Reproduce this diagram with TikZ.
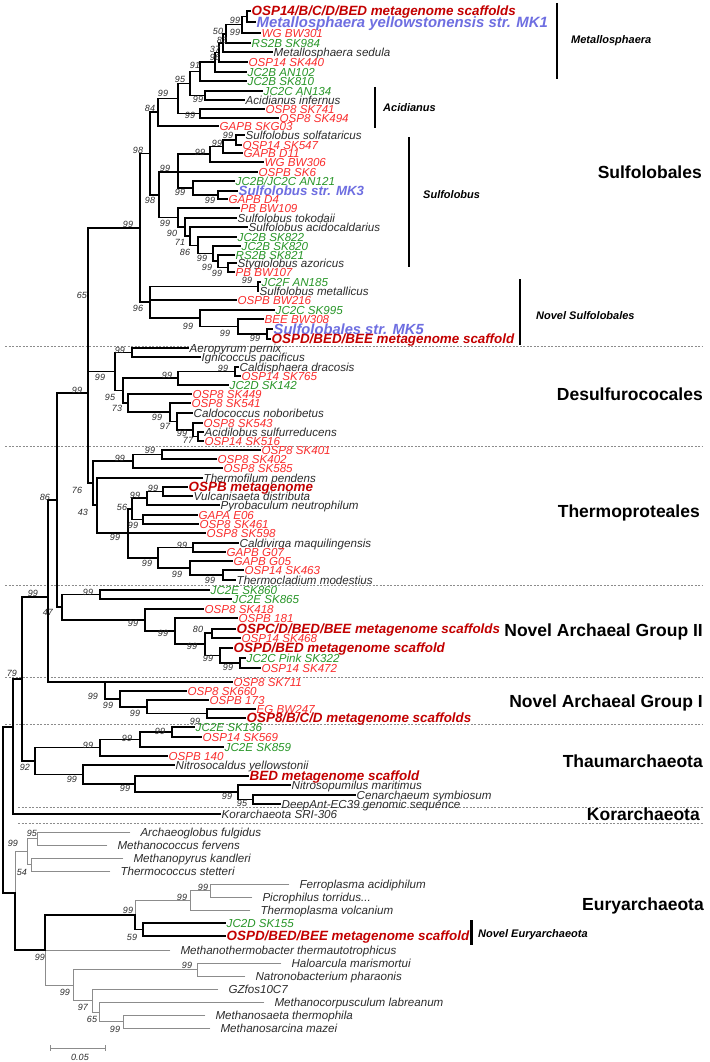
\documentclass[tikz,border=0pt]{standalone}
\usepackage{fontspec}
\setmainfont{Liberation Sans}
\definecolor{tx}{RGB}{45,45,45}
\definecolor{rd}{RGB}{250,45,45}
\definecolor{gn}{RGB}{40,150,40}
\definecolor{dr}{RGB}{195,0,0}
\definecolor{bu}{RGB}{110,110,225}
\definecolor{gl}{RGB}{140,140,140}
\begin{document}
\begin{tikzpicture}[x=1pt,y=-1pt,
 lf/.style={anchor=west,inner xsep=1.5pt,inner ysep=0pt,text height=8.3pt,text depth=0pt,font=\fontsize{11.6}{12}\selectfont\itshape,text=tx},
 cr/.style={text=rd}, cg/.style={text=gn},
 ch/.style={font=\fontsize{13.4}{14}\selectfont\bfseries\itshape,text=dr,text height=9.6pt},
 cb/.style={font=\fontsize{14.7}{15}\selectfont\bfseries\itshape,text=bu,text height=10.6pt},
 cbl/.style={font=\fontsize{14.9}{16}\selectfont\bfseries\itshape,text=bu,text height=10.7pt},
 cbs/.style={font=\fontsize{13.3}{14}\selectfont\bfseries\itshape,text=bu,text height=9.6pt},
 el/.style={lf,outer xsep=9pt},
 bs/.style={font=\fontsize{9}{10}\selectfont\itshape,text=tx,inner sep=0pt},
 grp/.style={anchor=east,inner sep=0pt,font=\fontsize{17.5}{18}\selectfont\bfseries,text=black,text height=12.6pt,text depth=0pt},
 subg/.style={anchor=west,inner sep=0pt,font=\fontsize{11}{12}\selectfont\bfseries\itshape,text=black,text height=8pt,text depth=0pt},
 tbr/.style={draw=black,line width=1.5pt,line cap=rect},
 gbr/.style={draw=gl,line width=0.8pt,line cap=rect},
 sep/.style={draw=gl,line width=0.7pt,dash pattern=on 2pt off 1.5pt},
 grpbar/.style={draw=black,line width=1.6pt}
]
\fill[white] (0,0) rectangle (709,1062);
\useasboundingbox (0,0) rectangle (709,1062);

% ---------- separators ----------
\draw[sep] (5,346) -- (703,346);
\draw[sep] (5,446) -- (703,446);
\draw[sep] (5,585) -- (703,585);
\draw[sep] (5,677) -- (703,677);
\draw[sep] (5,724) -- (703,724);
\draw[sep] (18,807) -- (703,807);
\draw[sep] (18,823) -- (703,823);

% ---------- leaves ----------
\node[lf,ch] (L1) at (250,11) {OSP14/B/C/D/BED metagenome scaffolds};
\node[lf,cbl] (L2) at (255,22) {Metallosphaera yellowstonensis str. MK1};
\node[lf,cr] (L3) at (260,33) {WG BW301};
\node[lf,cg] (L4) at (250,43) {RS2B SK984};
\node[lf] (L5) at (272,52) {Metallosphaera sedula};
\node[lf,cr] (L6) at (247,62) {OSP14 SK440};
\node[lf,cg] (L7) at (246,72) {JC2B AN102};
\node[lf,cg] (L8) at (246,81) {JC2B SK810};
\node[lf,cg] (L9) at (262,91) {JC2C AN134};
\node[lf] (L10) at (244,100) {Acidianus infernus};
\node[lf,cr] (L11) at (264,109) {OSP8 SK741};
\node[lf,cr] (L12) at (278,118) {OSP8 SK494};
\node[lf,cr] (L13) at (218,126) {GAPB SKG03};
\node[lf] (L14) at (244,135) {Sulfolobus solfataricus};
\node[lf,cr] (L15) at (241,145) {OSP14 SK547};
\node[lf,cr] (L16) at (242,153) {GAPB D11};
\node[lf,cr] (L17) at (263,162) {WG BW306};
\node[lf,cr] (L18) at (257,172) {OSPB SK6};
\node[lf,cg] (L19) at (234,181) {JC2B/JC2C AN121};
\node[lf,cbs] (L20) at (237,191) {Sulfolobus str. MK3};
\node[lf,cr] (L21) at (227,199) {GAPB D4};
\node[lf,cr] (L22) at (239,208) {PB BW109};
\node[lf] (L23) at (236,218) {Sulfolobus tokodaii};
\node[lf] (L24) at (247,227) {Sulfolobus acidocaldarius};
\node[lf,cg] (L25) at (236,237) {JC2B SK822};
\node[lf,cg] (L26) at (240,246) {JC2B SK820};
\node[lf,cg] (L27) at (234,255) {RS2B SK821};
\node[lf] (L28) at (236,263) {Stygiolobus azoricus};
\node[lf,cr] (L29) at (234,272) {PB BW107};
\node[lf,cg] (L30) at (260,282) {JC2F AN185};
\node[lf] (L31) at (258,291) {Sulfolobus metallicus};
\node[lf,cr] (L32) at (236,300) {OSPB BW216};
\node[lf,cg] (L33) at (274,310) {JC2C SK995};
\node[lf,cr] (L34) at (263,319) {BEE BW308};
\node[lf,cb] (L35) at (272,329) {Sulfolobales str. MK5};
\node[lf,ch] (L36) at (270,339) {OSPD/BED/BEE metagenome scaffold};
\node[lf] (L37) at (188,348) {Aeropyrum pernix};
\node[lf] (L38) at (200,357) {Ignicoccus pacificus};
\node[lf] (L39) at (238,367) {Caldisphaera dracosis};
\node[lf,cr] (L40) at (240,376) {OSP14 SK765};
\node[lf,cg] (L41) at (228,385) {JC2D SK142};
\node[lf,cr] (L42) at (191,394) {OSP8 SK449};
\node[lf,cr] (L43) at (190,403) {OSP8 SK541};
\node[lf] (L44) at (192,413) {Caldococcus noboribetus};
\node[lf,cr] (L45) at (202,423) {OSP8 SK543};
\node[lf] (L46) at (203,432) {Acidilobus sulfurreducens};
\node[lf,cr] (L47) at (203,441) {OSP14 SK516};
\node[lf,cr] (L48) at (260,450) {OSP8 SK401};
\node[lf,cr] (L49) at (216,459) {OSP8 SK402};
\node[lf,cr] (L50) at (222,468) {OSP8 SK585};
\node[lf] (L51) at (202,478) {Thermofilum pendens};
\node[lf,ch] (L52) at (187,487) {OSPB metagenome};
\node[lf] (L53) at (192,496) {Vulcanisaeta distributa};
\node[lf] (L54) at (219,505) {Pyrobaculum neutrophilum};
\node[lf,cr] (L55) at (197,515) {GAPA E06};
\node[lf,cr] (L56) at (198,524) {OSP8 SK461};
\node[lf,cr] (L57) at (205,533) {OSP8 SK598};
\node[lf] (L58) at (238,543) {Caldivirga maquilingensis};
\node[lf,cr] (L59) at (225,552) {GAPB G07};
\node[lf,cr] (L60) at (232,561) {GAPB G05};
\node[lf,cr] (L61) at (243,570) {OSP14 SK463};
\node[lf] (L62) at (235,580) {Thermocladium modestius};
\node[lf,cg] (L63) at (209,590) {JC2E SK860};
\node[lf,cg] (L64) at (231,599) {JC2E SK865};
\node[lf,cr] (L65) at (203,609) {OSP8 SK418};
\node[lf,cr] (L66) at (237,618) {OSPB 181};
\node[lf,ch] (L67) at (235,629) {OSPC/D/BED/BEE metagenome scaffolds};
\node[lf,cr] (L68) at (240,638) {OSP14 SK468};
\node[lf,ch] (L69) at (232,648) {OSPD/BED metagenome scaffold};
\node[lf,cg] (L70) at (245,658) {JC2C Pink SK322};
\node[lf,cr] (L71) at (260,668) {OSP14 SK472};
\node[lf,cr] (L72) at (232,682) {OSP8 SK711};
\node[lf,cr] (L73) at (186,691) {OSP8 SK660};
\node[lf,cr] (L74) at (208,700) {OSPB 173};
\node[lf,cr] (L75) at (255,709) {EG BW247};
\node[lf,ch] (L76) at (245,718) {OSP8/B/C/D metagenome scaffolds};
\node[lf,cg] (L77) at (194,727) {JC2E SK136};
\node[lf,cr] (L78) at (201,737) {OSP14 SK569};
\node[lf,cg] (L79) at (223,747) {JC2E SK859};
\node[lf,cr] (L80) at (167,756) {OSPB 140};
\node[lf] (L81) at (174,765) {Nitrosocaldus yellowstonii};
\node[lf,ch] (L82) at (248,776) {BED metagenome scaffold};
\node[lf] (L83) at (290,785) {Nitrosopumilus maritimus};
\node[lf] (L84) at (355,795) {Cenarchaeum symbiosum};
\node[lf] (L85) at (280,804) {DeepAnt-EC39 genomic sequence};
\node[lf] (L86) at (220,814) {Korarchaeota SRI-306};
\node[el] (L87) at (130,832) {Archaeoglobus fulgidus};
\node[el] (L88) at (107,845) {Methanococcus fervens};
\node[el] (L89) at (123,858) {Methanopyrus kandleri};
\node[el] (L90) at (110,871) {Thermococcus stetteri};
\node[el] (L91) at (289,884) {Ferroplasma acidiphilum};
\node[el] (L92) at (252,897) {Picrophilus torridus...};
\node[el] (L93) at (250,910) {Thermoplasma volcanium};
\node[lf,cg] (L94) at (225,923) {JC2D SK155};
\node[lf,ch] (L95) at (225,936) {OSPD/BED/BEE metagenome scaffold};
\node[el] (L96) at (170,950) {Methanothermobacter thermautotrophicus};
\node[el] (L97) at (281,963) {Haloarcula marismortui};
\node[el] (L98) at (245,976) {Natronobacterium pharaonis};
\node[el] (L99) at (218,989) {GZfos10C7};
\node[el] (L100) at (264,1002) {Methanocorpusculum labreanum};
\node[el] (L101) at (205,1015) {Methanosaeta thermophila};
\node[el] (L102) at (210,1028) {Methanosarcina mazei};

% ---------- internal nodes ----------
\foreach \n/\x/\y in {m1/247/16.5, m2/242/24.75, m3/226/33.9, m4/223/43, m5/219/52.5,
  m6/215/62.25, m7/200/71.6, n8/205/95.5, m8/190/83.5, n10/200/113.5, m9/178/98.5,
  n11/158/112, q2/236/140, q3/223/146.5, q4/210/154, r2/218/195, r/193/188, u/178/172,
  s1/228/267.5, s2/218/261, s3/213/253.6, s4/198/245.3, s5/190/236, s6/185/227,
  s7/178/217.5, S0/159/195, n12/150/153.5, ns1/258/286.5, ns4/267/334, ns3/238/326.5,
  ns2/200/318, NS/150/302, n13/140/228, cren/88/393,
  d4/235/371.5, d3/178/378, d9/198/436.5, d8/193/430, d7/177/421.5, d6/170/412,
  d5/128/403, d2/123/390.5, aer/132/352.5, d1/115/371.5,
  p1/162/454.5, p2/133/461, vu/163/491.5, py/147/498, ga/143/519.5, t56/132/509,
  c1/193/547.5, c3/223/575, c2/190/568, c0/158/558, tb/128/533, ta/97/505, tt/93/483,
  x57/57/500, j/100/594.5, k240/240/663, k220/220/655.5, k212/212/633, k205/205/644,
  k175/175/631, k145/145/620, x62/62/607, g207/207/713.5, g147/147/707, g120/120/699,
  x105/105/682, x48/48/597, h172/172/732, h140/140/739.5, h100/100/747.5,
  h253/253/799.5, h238/238/792, h135/135/784, h83/83/774.5, x35/35/761, x22/22/679,
  x13/13/727, root/3/810, e37/37/838.5, e31/31/864.5, e27/27/851.5, e15/15/893,
  e210/210/890.5, e190/190/900, e143/143/929.5, e135/135/915, e197/197/969.5,
  e123/123/1021.5, e99/99/1012, e92/92/1000, e73/73/985, e45/45/950}
  \coordinate (\n) at (\x,\y);

% ---------- thick branches ----------
\foreach \c/\p in {L1/m1, L2/m1, m1/m2, L3/m2, m2/m3, L4/m3, m3/m4, L5/m4, m4/m5, L6/m5,
  m5/m6, L7/m6, m6/m7, L8/m7, L9/n8, L10/n8, m7/m8, n8/m8, L11/n10, L12/n10, m8/m9,
  n10/m9, m9/n11, L13/n11, L14/q2, L15/q2, q2/q3, L16/q3, q3/q4, L17/q4, L20/r2, L21/r2,
  L19/r, r2/r, q4/u, L18/u, r/u, L28/s1, L29/s1, L27/s2, s1/s2, L26/s3, s2/s3, L25/s4,
  s3/s4, L24/s5, s4/s5, L23/s6, s5/s6, L22/s7, s6/s7, u/S0, s7/S0, n11/n12, S0/n12,
  L30/ns1, L31/ns1, L35/ns4, L36/ns4, L34/ns3, ns4/ns3, L33/ns2, ns3/ns2, ns1/NS,
  L32/NS, ns2/NS, n12/n13, NS/n13, n13/cren, d1/cren, tt/cren,
  L39/d4, L40/d4, d4/d3, L41/d3, L46/d9, L47/d9, L45/d8, d9/d8, L44/d7, d8/d7, L43/d6,
  d7/d6, L42/d5, d6/d5, d3/d2, d5/d2, L37/aer, L38/aer, aer/d1, d2/d1,
  L48/p1, L49/p1, p1/p2, L50/p2, L52/vu, L53/vu, vu/py, L54/py, L55/ga, L56/ga, py/t56,
  ga/t56, L58/c1, L59/c1, L61/c3, L62/c3, L60/c2, c3/c2, c1/c0, c2/c0, t56/tb, L57/tb,
  c0/tb, L51/ta, tb/ta, p2/tt, ta/tt,
  cren/x57, x62/x57, L63/j, L64/j, L70/k240, L71/k240, L69/k220, k240/k220, L67/k212,
  L68/k212, k212/k205, k220/k205, L66/k175, k205/k175, L65/k145, k175/k145, j/x62,
  k145/x62, L75/g207, L76/g207, L74/g147, g207/g147, L73/g120, g147/g120, L72/x105,
  g120/x105, x57/x48, x105/x48,
  L77/h172, L78/h172, h172/h140, L79/h140, h140/h100, L80/h100, L84/h253, L85/h253,
  L83/h238, h253/h238, L82/h135, h238/h135, L81/h83, h135/h83, h100/x35, h83/x35,
  x48/x22, x35/x22, x22/x13, L86/x13, x13/root, e15/root}
  \draw[tbr] (\c) -| (\p);

% ---------- thin grey branches (Euryarchaeota) ----------
\foreach \c/\p in {L87/e37, L88/e37, L89/e31, L90/e31, e37/e27, e31/e27, e27/e15,
  L91/e210, L92/e210, e210/e190, L93/e190, e190/e135, L96/e45, L97/e197, L98/e197,
  e197/e73, L101/e123, L102/e123, L100/e99, e123/e99, L99/e92, e99/e92, e92/e73, e73/e45}
  \draw[gbr] (\c) -| (\p);
% highlighted path on top
\foreach \c/\p in {e45/e15, e135/e45, e143/e135, L94/e143, L95/e143}
  \draw[tbr] (\c) -| (\p);

% ---------- bootstrap values ----------
\foreach \x/\y/\t [count=\i] in {235/20/99, 218/31/50, 235/32/99, 222/40/83, 215/49/37,
  215/57/96, 195/65/91, 180/79/95, 198/99/99, 163/93/99, 190/115/99, 150/108/84,
  138/150/98, 228/135/99, 217/143/99, 200/152/99, 165/168/99, 180/192/99, 210/200/99,
  150/200/98, 165/223/99, 172/233/90, 180/242/71, 185/252/86, 202/258/99, 207/267/99,
  217/273/99, 128/224/99, 247/280/99, 138/308/96, 188/326/99, 225/333/99, 255/338/99,
  82/295/65, 77/390/99,
  120/350/99, 100/377/99, 223/368/99, 167/375/99, 110/397/95, 117/408/73, 157/417/99,
  165/426/97, 182/433/99, 188/440/77,
  150/450/99, 120/458/99, 77/490/76, 83/512/43, 153/488/99, 135/495/99, 122/507/56,
  133/525/99, 115/537/99, 182/545/99, 147/563/99, 177/574/99, 210/580/99, 45/497/86,
  88/592/99, 48/612/47, 133/623/99, 163/633/99, 198/629/80, 192/646/99, 208/658/99,
  228/667/99, 33/593/99, 12/673/79,
  93/696/99, 108/705/99, 135/713/99, 195/721/99,
  160/731/99, 127/738/99, 88/745/99, 25/767/92, 72/779/99, 125/788/99, 227/796/99,
  242/803/95,
  13/843/99, 32/833/95, 22/872/54, 203/887/99, 182/897/99, 128/910/99, 132/937/59,
  40/957/99, 187/965/99, 65/992/99, 83/1007/97, 92/1019/65, 115/1029/99}
  \node[bs] (bs\i) at (\x,\y) {\t};

% ---------- clade bars and labels ----------
\draw[grpbar] (557,3) -- (557,79);
\node[subg] (tMet) at (571,40) {Metallosphaera};
\draw[grpbar] (375,87) -- (375,128);
\node[subg] (tAci) at (383,108) {Acidianus};
\draw[grpbar] (409,137) -- (409,267);
\node[subg] (tSul) at (423,194) {Sulfolobus};
\draw[grpbar] (520,279) -- (520,345);
\node[subg] (tNSu) at (536,315) {Novel Sulfolobales};
\draw[draw=black,line width=3pt] (471,920) -- (471,945);
\node[subg] (tNEu) at (478,933) {Novel Euryarchaeota};

\node[grp] (gSul) at (702,172) {Sulfolobales};
\node[grp] (gDes) at (703,394) {Desulfurococales};
\node[grp] (gThp) at (700,511) {Thermoproteales};
\node[grp] (gN2) at (703,630) {Novel Archaeal Group II};
\node[grp] (gN1) at (703,701) {Novel Archaeal Group I};
\node[grp] (gTha) at (703,761) {Thaumarchaeota};
\node[grp] (gKor) at (700,814) {Korarchaeota};
\node[grp] (gEur) at (704,904) {Euryarchaeota};

% ---------- scale bar ----------
\draw[draw=gl,line width=0.8pt] (50,1045) -- (50,1051) (50,1048) -- (105,1048) (105,1045) -- (105,1051);
\node[bs] (scl) at (80,1057) {0.05};
\end{tikzpicture}
\end{document}
